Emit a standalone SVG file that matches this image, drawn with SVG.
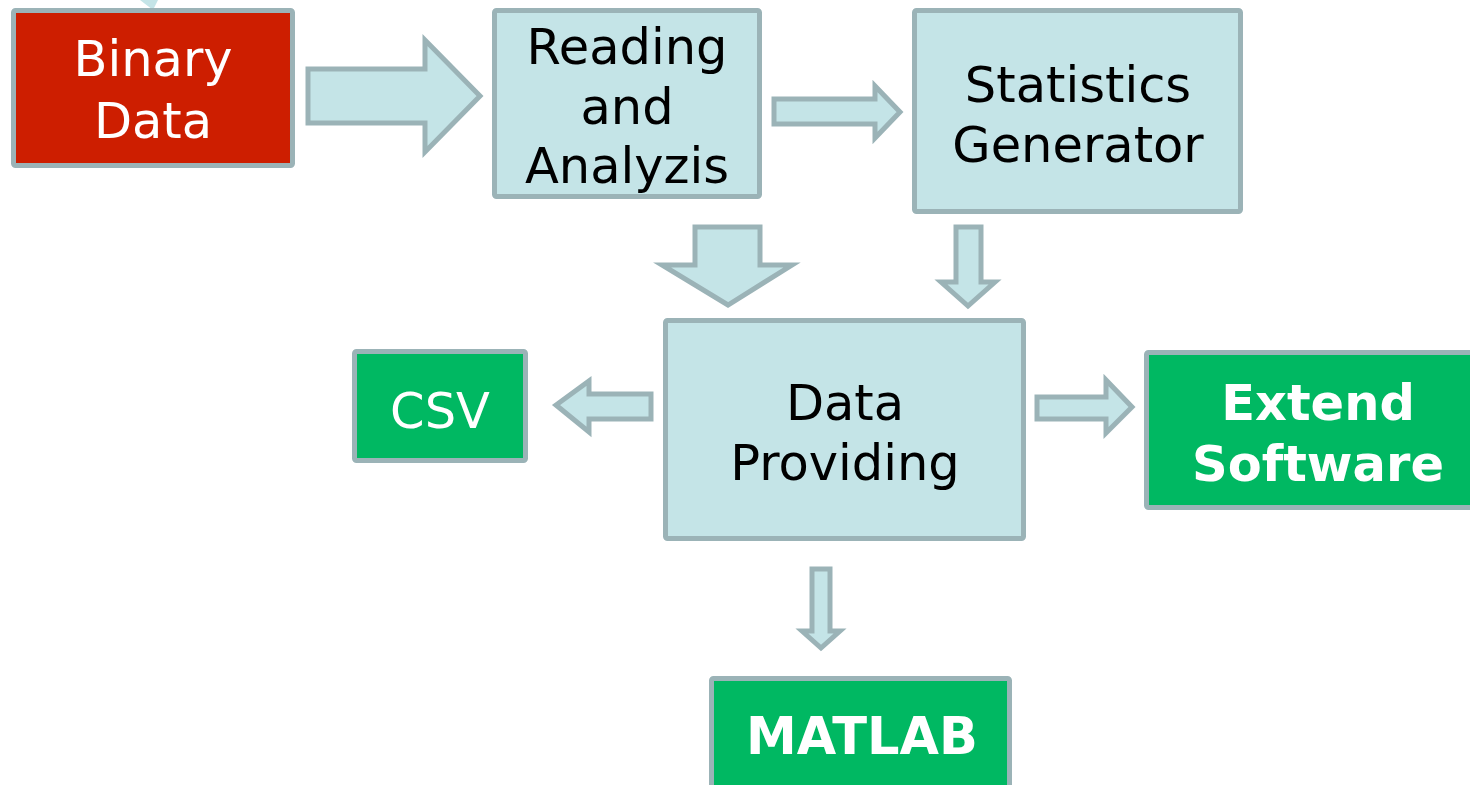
<svg xmlns="http://www.w3.org/2000/svg" width="1470" height="785" viewBox="0 0 1470 785">
<style>
.box{stroke:#9bb3b7;stroke-width:5}
.lb{fill:#c4e4e7}
.red{fill:#cd1e00}
.grn{fill:#00b862}
.arr{fill:#c4e4e7;stroke:#9bb3b7;stroke-width:5;stroke-linejoin:miter}
text{font-family:"DejaVu Sans",Verdana,sans-serif;font-size:49.5px;text-anchor:middle}
.w{fill:#ffffff}
.k{fill:#000000}
.b{font-weight:bold}
</style>
<rect width="1470" height="785" fill="#ffffff"/>
<polygon points="140,0 158,0 153,10" fill="#c4e4e7"/>
<g id="binary">
<rect class="box red" x="13.5" y="10.5" width="279" height="155" rx="2"/>
<text class="w" x="153" y="76">Binary</text>
<text class="w" x="153" y="138">Data</text>
</g>
<g id="reading">
<rect class="box lb" x="494.5" y="10.5" width="265" height="186" rx="2"/>
<text class="k" x="627" y="64">Reading</text>
<text class="k" x="627" y="124">and</text>
<text class="k" x="627" y="183">Analyzis</text>
</g>
<g id="stats">
<rect class="box lb" x="914.5" y="10.5" width="326" height="201" rx="2"/>
<text class="k" x="1078" y="102">Statistics</text>
<text class="k" x="1078" y="162">Generator</text>
</g>
<g id="provide">
<rect class="box lb" x="665.5" y="320.5" width="358" height="218" rx="2"/>
<text class="k" x="845" y="420">Data</text>
<text class="k" x="845" y="480">Providing</text>
</g>
<g id="csv">
<rect class="box grn" x="354.5" y="351.5" width="171" height="109" rx="2"/>
<text class="w" x="440" y="428">CSV</text>
</g>
<g id="extend">
<rect class="box grn" x="1146.5" y="352.5" width="330" height="155" rx="2"/>
<text class="w b" x="1318" y="420">Extend</text>
<text class="w b" x="1318" y="481">Software</text>
</g>
<g id="matlab">
<rect class="box grn" x="711.5" y="678.5" width="298" height="120" rx="2"/>
<text class="w b" x="862" y="754" style="font-size:51px">MATLAB</text>
</g>
<g id="connectors">
<polygon class="arr" points="308,69 425,69 425,40 480,96 425,152 425,123 308,123"/>
<polygon class="arr" points="774,99 875,99 875,86 900,112 875,138 875,124 774,124"/>
<polygon class="arr" points="695,227 760,227 760,265 792,265 728,305 662,265 695,265"/>
<polygon class="arr" points="956,227 981,227 981,282 995,282 968,306 941,282 956,282"/>
<polygon class="arr" points="651,394 589,394 589,381 556,405 589,432 589,419 651,419"/>
<polygon class="arr" points="1037,397 1106,397 1106,380 1132,407 1106,433 1106,419 1037,419"/>
<polygon class="arr" points="812,569 830,569 830,631 840,631 821,648 802,631 812,631"/>
</g>
</svg>
